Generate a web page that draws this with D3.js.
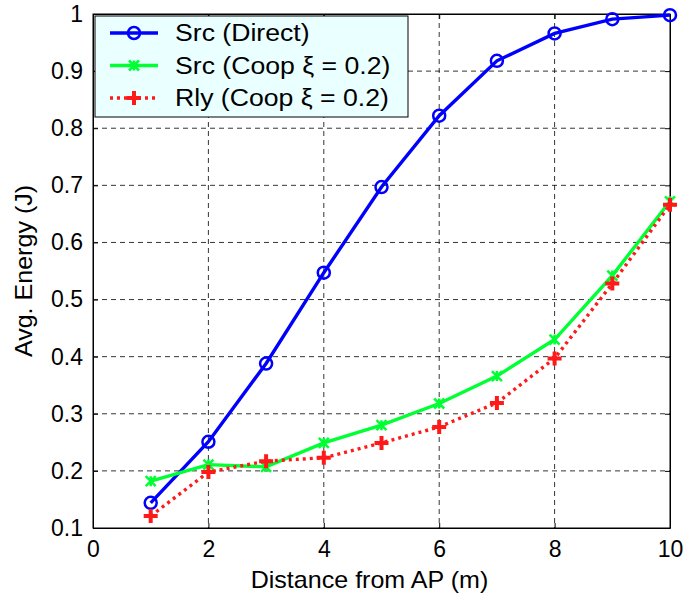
<!DOCTYPE html>
<meta charset="utf-8">
<style>
  body { margin: 0; background: #fff; }
  svg { font-family: "Liberation Sans", Arial, sans-serif; }
  .grid line { stroke: #000; stroke-dasharray: 5,4; stroke-width: 0.8; }
  .tick text { font-size: 23px; fill: #000; }
</style>
<body>
<script src="https://d3js.org/d3.v7.min.js"></script>
<script>

var distance = [1, 2, 3, 4, 5, 6, 7, 8, 9, 10];
var srcDirect = [0.144, 0.251, 0.388, 0.547, 0.697, 0.822, 0.918, 0.966, 0.991, 0.998];
var srcCoop   = [0.182, 0.211, 0.207, 0.249, 0.280, 0.318, 0.366, 0.430, 0.542, 0.672];
var rlyCoop   = [0.121, 0.198, 0.217, 0.223, 0.249, 0.277, 0.319, 0.397, 0.528, 0.666];
var xTicks = [0, 2, 4, 6, 8, 10];
var yTicks = [0.1, 0.2, 0.3, 0.4, 0.5, 0.6, 0.7, 0.8, 0.9, 1];
var legendNames = ["Src (Direct)", "Src (Coop \u03BE = 0.2)", "Rly (Coop \u03BE = 0.2)"];

var W = 686, H = 598;
var margin = {top: 14, right: 16, bottom: 70, left: 93};
var width = W - margin.left - margin.right,
    height = H - margin.top - margin.bottom;

var svg = d3.select("body").append("svg")
    .attr("width", W).attr("height", H);

var g = svg.append("g").attr("transform", "translate(" + margin.left + "," + margin.top + ")");

var x = d3.scaleLinear().domain([0, 10]).range([0, width]);
var y = d3.scaleLinear().domain([0.1, 1]).range([height, 0]);

// grid
var grid = g.append("g").attr("class", "grid");
grid.selectAll(".gx").data(xTicks.slice(1, -1)).enter().append("line")
    .attr("x1", function(d) { return x(d); }).attr("x2", function(d) { return x(d); })
    .attr("y1", 0).attr("y2", height);
grid.selectAll(".gy").data(yTicks.slice(1, -1)).enter().append("line")
    .attr("y1", function(d) { return y(d); }).attr("y2", function(d) { return y(d); })
    .attr("x1", 0).attr("x2", width);

// axes, ticks pointing inward
var xAxis = g.append("g").attr("transform", "translate(0," + height + ")")
    .call(d3.axisBottom(x).tickValues(xTicks).tickSizeInner(-5).tickSizeOuter(0).tickPadding(13));
g.append("g")
    .call(d3.axisTop(x).tickValues(xTicks).tickSizeInner(-5).tickSizeOuter(0).tickFormat(""));
g.append("g")
    .call(d3.axisLeft(y).tickValues(yTicks).tickSizeInner(-5).tickSizeOuter(0).tickPadding(10)
      .tickFormat(d3.format("~g")));
g.append("g").attr("transform", "translate(" + width + ",0)")
    .call(d3.axisRight(y).tickValues(yTicks).tickSizeInner(-5).tickSizeOuter(0).tickFormat(""));
g.selectAll(".domain").attr("stroke", "#000");
g.selectAll(".tick line").attr("stroke", "#000");
g.selectAll(".tick text").attr("font-family", "Liberation Sans, Arial, sans-serif");
xAxis.selectAll(".tick text").attr("dy", "0.71em");

// border
g.append("rect").attr("width", width).attr("height", height)
    .attr("fill", "none").attr("stroke", "#000").attr("stroke-width", 1);

var line = d3.line()
    .x(function(d, i) { return x(distance[i]); })
    .y(function(d) { return y(d); });

var series = [
  {vals: srcDirect, color: "#0000ff", dash: null, marker: "o"},
  {vals: srcCoop, color: "#00ff33", dash: null, marker: "x"},
  {vals: rlyCoop, color: "#ff1a1a", dash: "3,4", marker: "+"}
];

function drawMarker(sel, type, color) {
  if (type === "o") {
    sel.append("circle").attr("r", 6).attr("fill", "none")
      .attr("stroke", color).attr("stroke-width", 2.5);
  } else if (type === "x") {
    sel.append("path").attr("d", "M-5,-5L5,5M-5,5L5,-5M0,-5V5")
      .attr("stroke", color).attr("stroke-width", 2.5).attr("fill", "none");
  } else {
    sel.append("path").attr("d", "M-7,0H7M0,-7V7")
      .attr("stroke", color).attr("stroke-width", 4).attr("fill", "none");
  }
}

series.forEach(function(s) {
  g.append("path").datum(s.vals)
    .attr("d", line)
    .attr("fill", "none")
    .attr("stroke", s.color)
    .attr("stroke-width", 3.4)
    .attr("stroke-dasharray", s.dash);
  g.selectAll(null).data(s.vals).enter().append("g")
    .attr("transform", function(d, i) { return "translate(" + x(distance[i]) + "," + y(d) + ")"; })
    .each(function() { drawMarker(d3.select(this), s.marker, s.color); });
});

// legend (text is a bit wider in the original, so stretch it horizontally)
var lg = g.append("g").attr("transform", "translate(2,2)");
lg.append("rect").attr("width", 313).attr("height", 101)
    .attr("fill", "#eaffff").attr("stroke", "#000").attr("stroke-width", 1);
series.forEach(function(s, i) {
  var row = lg.append("g").attr("transform", "translate(0," + (17 + i * 32.5) + ")");
  row.append("line").attr("x1", 15).attr("x2", 63)
    .attr("stroke", s.color).attr("stroke-width", 3.4).attr("stroke-dasharray", s.dash);
  drawMarker(row.append("g").attr("transform", "translate(39,0)"), s.marker, s.color);
  row.append("text").attr("transform", "translate(80,0) scale(1.11,1)")
    .attr("dy", "0.35em").attr("font-size", 24).text(legendNames[i]);
});

// axis labels
svg.append("text").attr("transform", "translate(" + (margin.left + width / 2 - 12) + ",588) scale(1.09,1)")
    .attr("text-anchor", "middle").attr("font-size", 23).text("Distance from AP (m)");
svg.append("text").attr("transform", "translate(32," + (margin.top + height / 2) + ") rotate(-90) scale(1.09,1)")
    .attr("text-anchor", "middle").attr("font-size", 23).text("Avg. Energy (J)");

</script>
</body>
